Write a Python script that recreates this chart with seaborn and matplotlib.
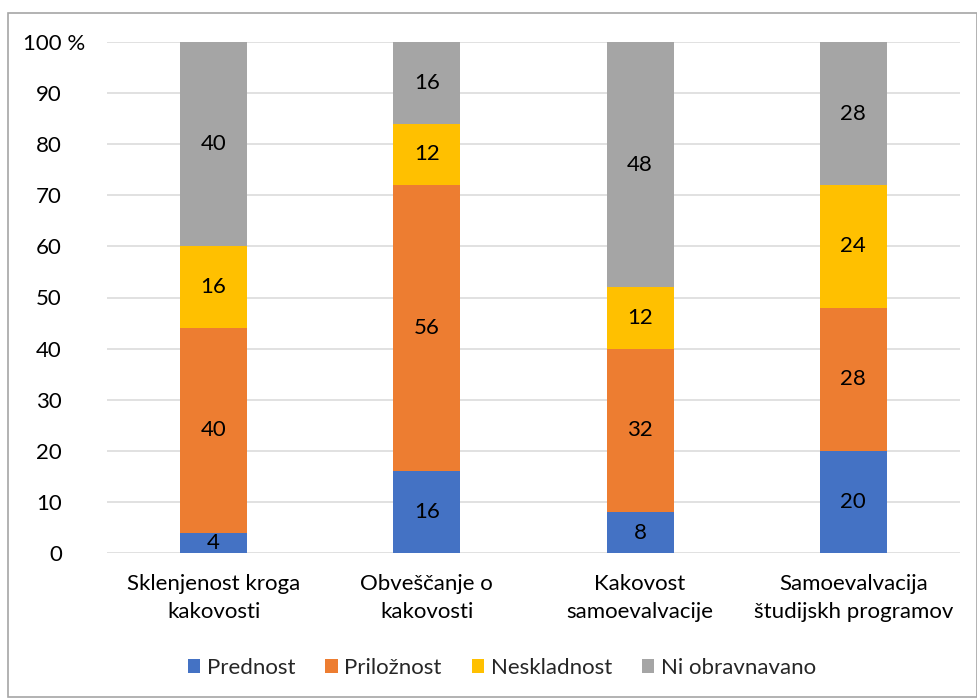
import numpy as np
import pandas as pd
import seaborn as sns
import matplotlib.pyplot as plt
from matplotlib.patches import Patch, Rectangle
from matplotlib.transforms import ScaledTranslation

categories = ["Sklenjenost kroga\nkakovosti", "Obveščanje o\nkakovosti",
              "Kakovost\nsamoevalvacije", "Samoevalvacija\nštudijskh programov"]
series = ["Prednost", "Priložnost", "Neskladnost", "Ni obravnavano"]
prednost = [4, 16, 8, 20]
priloznost = [40, 56, 32, 28]
neskladnost = [16, 12, 12, 24]
ni_obravnavano = [40, 16, 48, 28]
colors = ["#4472C4", "#ED7D31", "#FFC000", "#A5A5A5"]
y_ticks = [0, 10, 20, 30, 40, 50, 60, 70, 80, 90, 100]

values = [prednost, priloznost, neskladnost, ni_obravnavano]
df = pd.DataFrame({"kategorija": categories})
for name, vals in zip(series, values):
    df[name] = vals
cum = df[series].cumsum(axis=1)

sns.set_style("white")
plt.rcParams["font.family"] = ["Lato", "DejaVu Sans"]
fs = 16

fig = plt.figure(figsize=(9.78, 6.98), dpi=100)
ax = fig.add_axes([107 / 978, 1 - 553 / 698, (960 - 107) / 978, (553 - 42) / 698])

# stacked bars: draw cumulative totals from top to bottom
for name, col in reversed(list(zip(series, colors))):
    sns.barplot(x="kategorija", y=name, data=cum.assign(kategorija=categories),
                color=col, width=0.315, saturation=1, ax=ax, zorder=3,
                edgecolor="none")

for i in range(len(categories)):
    for j, name in enumerate(series):
        v = df[name][i]
        ax.text(i, cum[name][i] - v / 2, str(v), ha="center", va="center",
                fontsize=fs, color="#000000", zorder=5)

ax.set_xlim(-0.5, 3.5)
ax.set_ylim(0, 100)
ax.set_yticks(y_ticks)
ax.set_yticklabels([f"{t} %" if t == 100 else str(t) for t in y_ticks])
ax.grid(axis="y", color="#D9D9D9", linewidth=1.1, zorder=0)
ax.set_axisbelow(True)
for s in ax.spines.values():
    s.set_visible(False)
ax.tick_params(axis="both", length=0, labelsize=fs, colors="#000000")
ax.tick_params(axis="y", pad=45 * 0.72)
ax.tick_params(axis="x", pad=15)
ax.set_xlabel("")
ax.set_ylabel("")
for lab in ax.get_xticklabels():
    lab.set_linespacing(1.5)

# shift the "100 %" label so the digits align with the others
fig.canvas.draw()
top = ax.get_yticklabels()[-1]
top.set_transform(top.get_transform() + ScaledTranslation(23 / 100, 0, fig.dpi_scale_trans))

handles = [Patch(facecolor=c, edgecolor="none", label=s) for s, c in zip(series, colors)]
fig.legend(handles=handles, loc="center", bbox_to_anchor=(502 / 978, 1 - 668 / 698),
           ncol=4, frameon=False, fontsize=fs, handlelength=0.55, handleheight=0.55,
           handletextpad=0.3, columnspacing=1.35)

fig.patches.append(Rectangle((8 / 978, 1 / 698), 969 / 978, 684 / 698,
                             transform=fig.transFigure, fill=False,
                             edgecolor="#A6A6A6", linewidth=1.2))

fig.savefig("out.png", dpi=100)
